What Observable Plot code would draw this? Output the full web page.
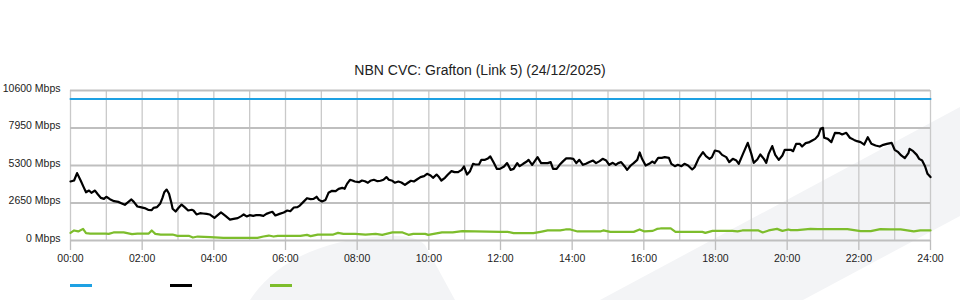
<!DOCTYPE html>
<html>
<head>
<meta charset="utf-8">
<script src="https://cdn.jsdelivr.net/npm/d3@7"></script>
<script src="https://cdn.jsdelivr.net/npm/@observablehq/plot@0.6"></script>
<style>
  html, body { margin: 0; padding: 0; background: #fff; }
  #wrap { position: relative; width: 960px; height: 300px; overflow: hidden; font-family: "Liberation Sans", Arial, sans-serif; }
  #bg { position: absolute; left: 0; top: 0; }
  #title { position: absolute; left: 0; top: 61px; width: 960px; text-align: center; font-size: 14px; line-height: 18px; color: #222; }
  #chart { position: absolute; left: 0; top: 0; }
  .sw { position: absolute; top: 284px; width: 22px; height: 3px; }
</style>
</head>
<body>
<div id="wrap">
  <svg id="bg" width="960" height="300">
    <path d="M250,300 C275,262 320,240 385,236 C405,235 418,238 425,245 L455,300 Z" fill="#f3f4f6"/>
    <polygon points="600,300 960,107 960,216 803,300" fill="#f3f4f6"/>
  </svg>
  <div id="title">NBN CVC: Grafton (Link 5) (24/12/2025)</div>
  <div id="chart"></div>
  <div class="sw" style="left:70px;background:#1ea1e3"></div>
  <div class="sw" style="left:170px;background:#000"></div>
  <div class="sw" style="left:270px;background:#7dbd2c"></div>
</div>
<script>
// Y-axis tick values (Mbps)
const yTicks = [0, 2650, 5300, 7950, 10600];
// X-axis tick labels every 2 hours (minutes since midnight)
const xTicks = [0, 120, 240, 360, 480, 600, 720, 840, 960, 1080, 1200, 1320, 1440];
const hourGrid = [0,60,120,180,240,300,360,420,480,540,600,660,720,780,840,900,960,1020,1080,1140,1200,1260,1320,1380,1440];

// Capacity (blue)
const capMinutes = [0, 1440];
const capMbps = [10000, 10000];

// Traffic (black)
const blackMinutes = [0,6,11,17,22,26,31,35,41,46,51,56,60,66,73,80,85,91,97,102,106,112,117,124,130,136,139,145,150,154,157,161,165,169,171,176,181,186,191,197,203,206,211,217,222,228,233,
241,247,252,260,267,273,280,286,290,295,300,306,311,317,323,328,334,338,343,350,357,363,368,374,380,384,390,396,402,407,412,416,421,427,432,438,444,449,455,459,463,468,472,476,
483,488,493,498,502,508,514,519,524,529,533,539,543,549,554,560,565,570,575,580,586,592,597,603,607,613,617,621,627,632,638,643,649,655,659,661,664,669,674,678,684,688,694,699,703,709,714,719,
726,731,737,742,748,752,758,764,767,773,778,782,788,794,799,804,808,814,819,825,830,837,842,847,852,858,863,869,875,880,886,891,897,902,908,913,917,922,928,932,938,943,949,953,957,
963,969,974,978,984,990,995,1002,1006,1012,1017,1023,1028,1034,1041,1045,1052,1059,1064,1070,1074,1079,1086,1091,1098,1103,1109,1115,1119,1126,1134,1140,1144,1150,1155,1161,1165,1169,1175,1180,1186,1192,1196,1202,
1206,1210,1215,1221,1225,1231,1236,1242,1247,1252,1256,1260,1262,1268,1274,1280,1287,1292,1299,1305,1312,1317,1323,1329,1335,1341,1348,1355,1361,1367,1375,1380,1386,1391,1397,1403,1405,1411,1417,1421,1426,1431,1435,1440];
const blackMbps = [4170,4240,4760,4240,3770,3410,3530,3370,3530,3250,3010,2940,3090,2920,2780,2730,2640,2520,2730,2900,2730,2400,2360,2290,2170,2140,2310,2360,2590,3010,3410,3600,3300,2640,2240,2050,2310,2540,2360,2120,2170,2120,1840,1930,1910,1880,1840,
1600,1810,1980,1720,1480,1530,1580,1720,1840,1700,1790,1740,1790,1790,1740,1880,1980,2030,1770,1880,1980,2120,2070,2330,2360,2470,2730,2990,2920,2940,3090,2870,2760,2870,3370,3510,3490,3650,3720,3650,4000,4290,4240,4170,
4120,4240,4190,4080,4220,4290,4190,4220,4290,4480,4290,4220,4080,4170,4100,3930,4080,4220,4170,4310,4480,4550,4710,4590,4430,4660,4480,4240,4430,4660,4900,4830,4830,4990,5230,4990,4660,4900,5420,5370,5370,5700,5700,5800,5940,5470,5060,5060,
5230,5470,4990,5060,5470,5250,5420,5580,5700,5350,5650,5890,5470,5470,5470,5540,5060,5060,5350,5610,5800,5800,5770,5470,5700,5350,5420,5540,5650,5470,5610,5770,5650,5350,5490,5350,5470,5540,5230,4990,5300,5470,5700,6220,5770,
5300,5420,5580,5470,5840,5840,5890,5840,5420,5250,5350,5250,5420,5300,5020,5180,5820,6240,5960,5770,5890,6360,6290,6050,5890,5540,5770,5650,5420,6120,6900,6120,5490,5720,6080,5770,5490,6120,6670,6050,5700,6010,6410,6410,
6410,6310,6830,6830,6640,6880,6930,7070,7180,7420,7890,7960,7260,7180,6950,7610,7590,7490,7610,7260,7110,7020,6950,6780,7300,6830,6710,6640,6760,6830,6900,6410,6240,6010,5820,6170,6480,6310,6050,5770,5650,5230,4710,4480];

// Traffic (green)
const greenMinutes = [0,6,13,21,26,33,59,64,72,89,103,112,131,136,142,151,171,179,198,205,213,234,256,313,323,332,340,347,373,385,396,402,414,440,448,457,477,494,511,522,539,556,566,574,594,599,622,640,656,720,732,742,775,787,799,820,829,837,849,887,892,904,943,953,961,975,982,988,1005,1013,1058,1063,1075,1108,1117,1125,1152,1159,1169,1183,1192,1202,1206,1217,1239,1251,1301,1323,1340,1356,1373,1390,1412,1423,1440];
const greenMbps = [540,710,640,820,520,490,490,470,570,570,450,490,490,710,470,420,420,330,330,210,280,240,190,190,280,350,280,330,330,330,400,310,420,420,540,470,470,420,470,400,570,570,400,470,470,400,570,570,660,610,610,520,520,610,710,710,780,780,640,640,710,610,610,780,640,680,820,850,850,610,610,540,680,680,640,710,710,570,710,820,680,780,730,730,820,800,800,660,660,800,780,780,640,710,710];

const cap = capMinutes.map((t, i) => ({t, v: capMbps[i]}));
const black = blackMinutes.map((t, i) => ({t, v: blackMbps[i]}));
const green = greenMinutes.map((t, i) => ({t, v: greenMbps[i]}));

const pad = n => String(n).padStart(2, "0");

const chart = Plot.plot({
  width: 960,
  height: 270,
  marginLeft: 70,
  marginRight: 30,
  marginTop: 90,
  marginBottom: 30,
  style: {background: "transparent", fontFamily: "Liberation Sans, Arial, sans-serif", fontSize: "10.5px", color: "#222"},
  x: {domain: [0, 1440], axis: null},
  y: {domain: [0, 10600], axis: null},
  marks: [
    Plot.gridX(hourGrid, {stroke: "#c9c9c9", strokeOpacity: 1, strokeWidth: 1.3}),
    Plot.gridY(yTicks, {stroke: "#bfbfbf", strokeOpacity: 1, strokeWidth: 2}),
    Plot.axisX(xTicks, {
      tickSize: 10, tickPadding: 4, stroke: "#bdbdbd", strokeWidth: 1.3,
      tickFormat: m => pad(m / 60) + ":00", fill: "#222", label: null
    }),
    Plot.axisY(yTicks, {
      tickSize: 0, tickPadding: 10, dy: -2,
      tickFormat: d => d + " Mbps", fill: "#222", label: null
    }),
    Plot.line(cap, {x: "t", y: "v", stroke: "#1ea1e3", strokeWidth: 2}),
    Plot.line(green, {x: "t", y: "v", stroke: "#7dbd2c", strokeWidth: 2.2}),
    Plot.line(black, {x: "t", y: "v", stroke: "#000", strokeWidth: 2.2, strokeLinejoin: "round"})
  ]
});
document.getElementById("chart").appendChild(chart);
</script>
</body>
</html>
